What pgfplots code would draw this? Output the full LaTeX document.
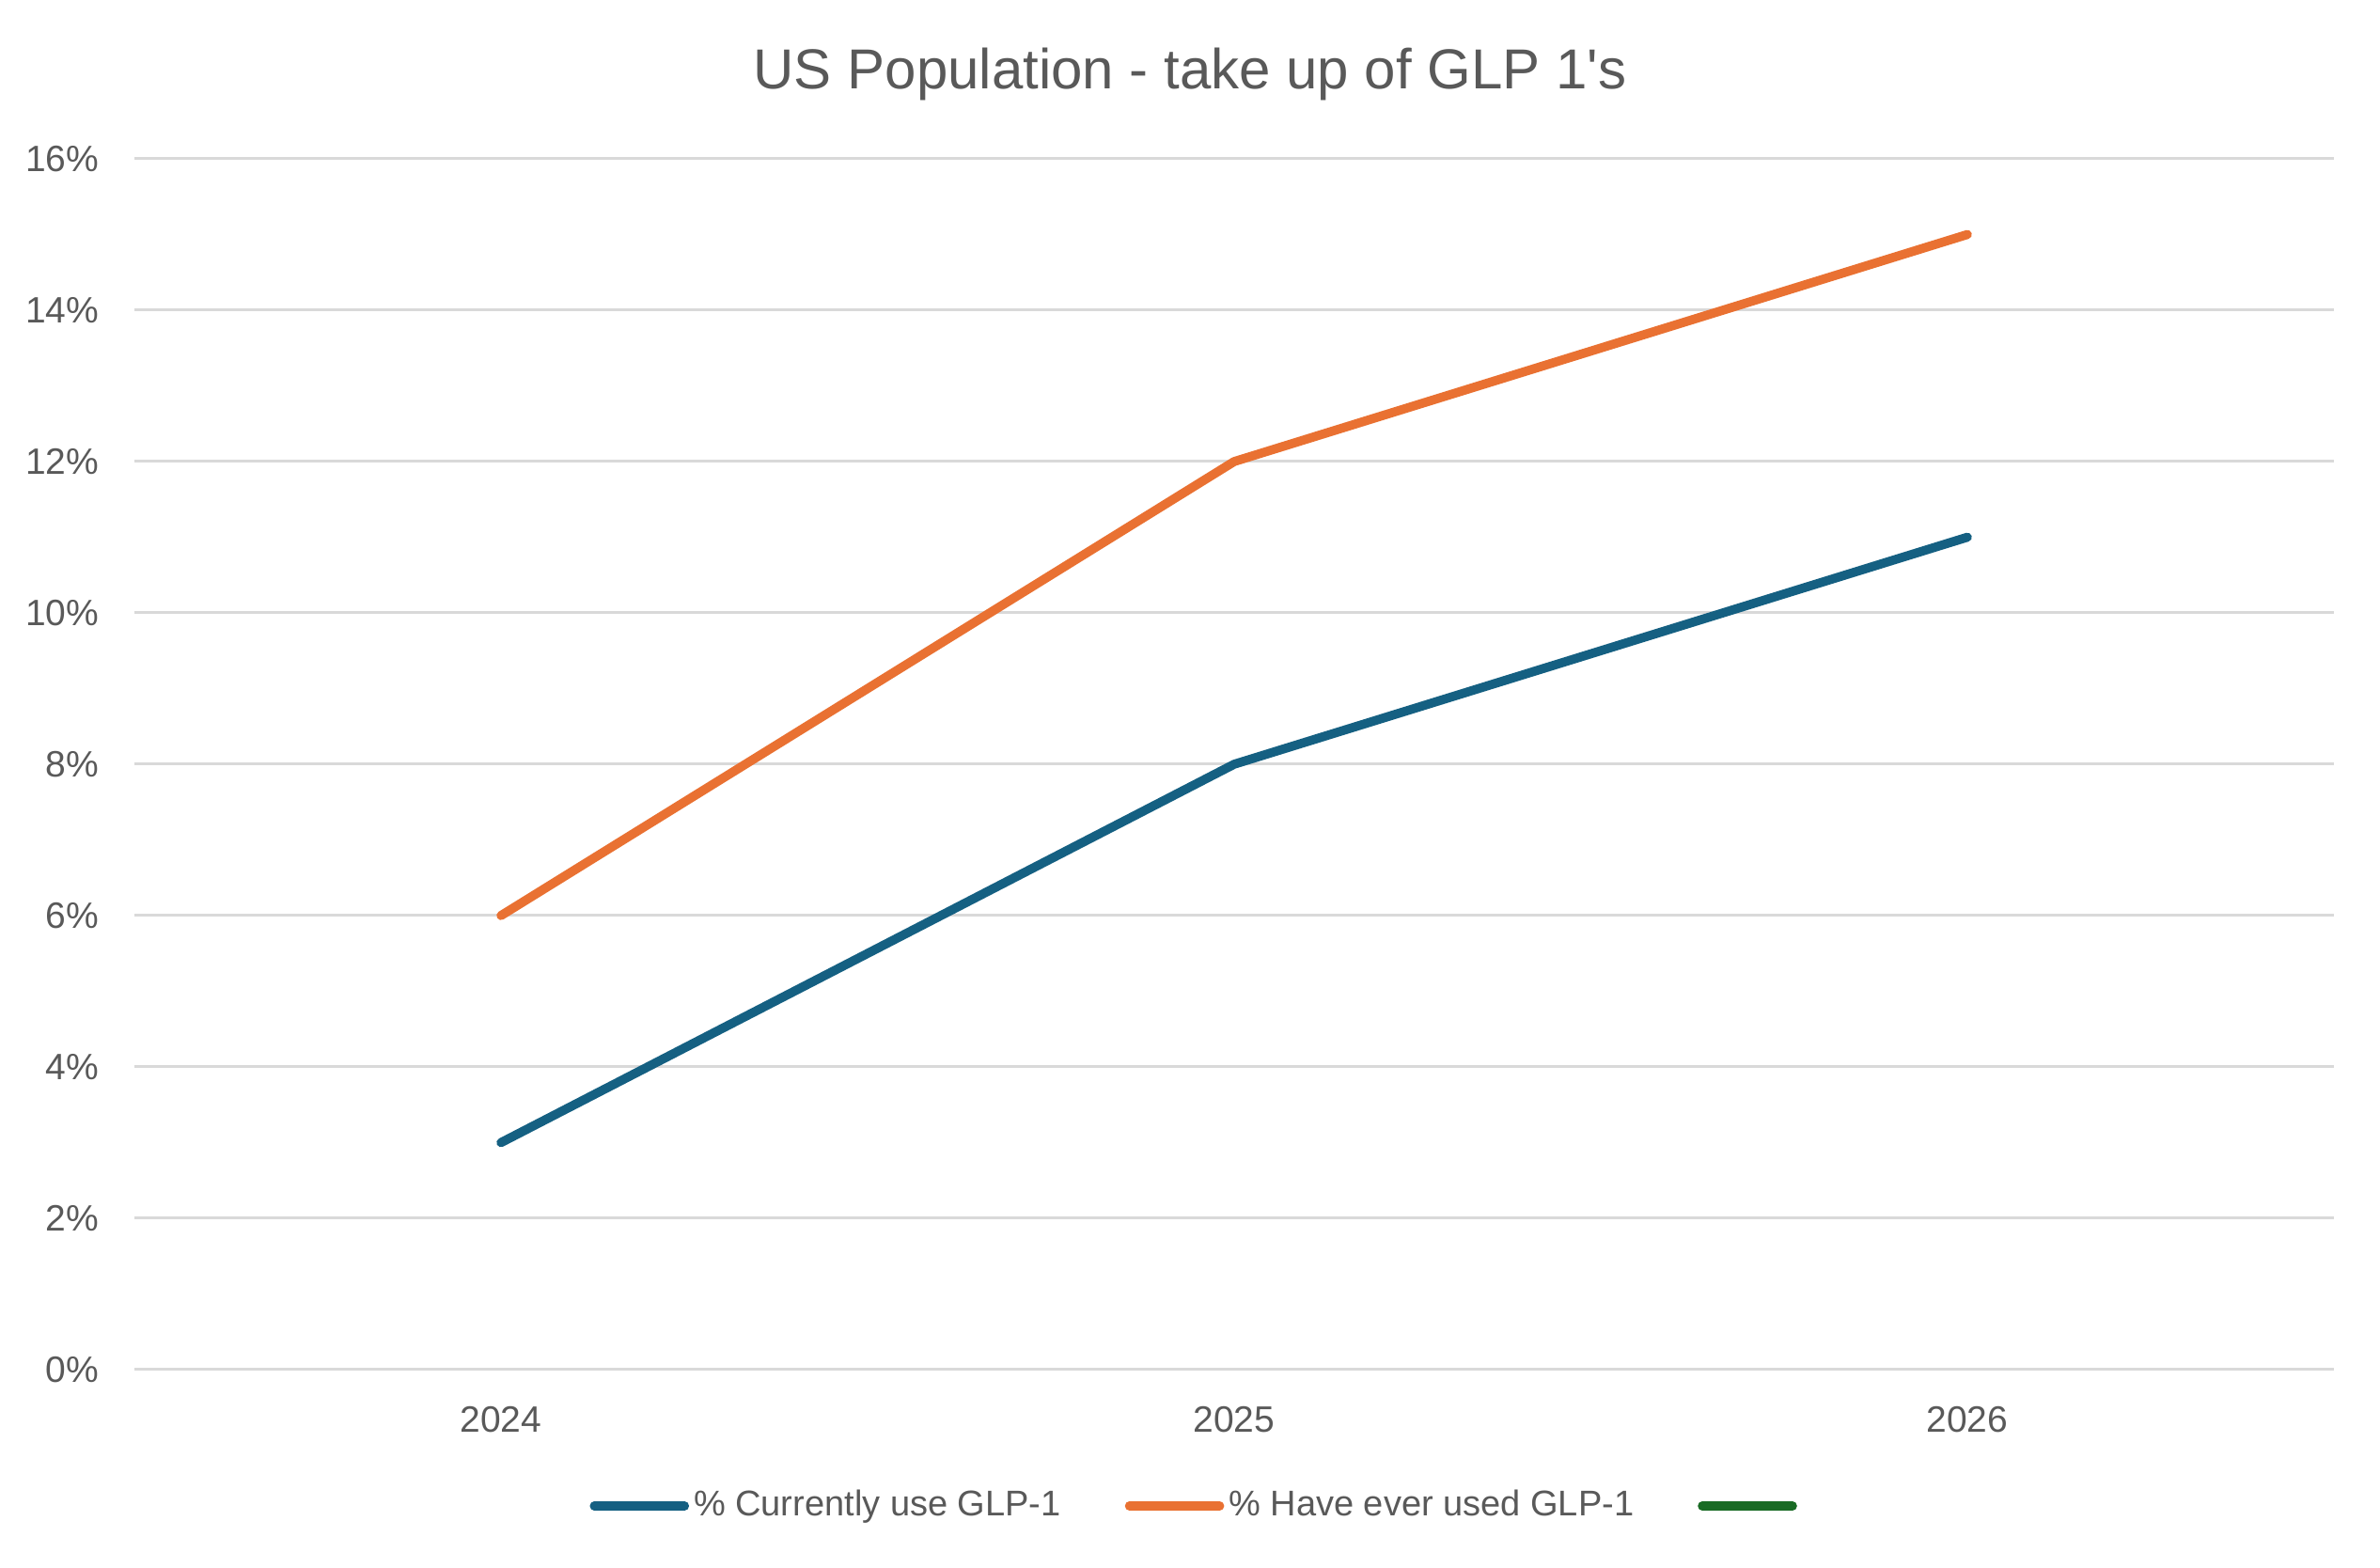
\documentclass[border=0pt]{standalone}
\usepackage{fontspec}
\setmainfont{Liberation Sans}[Ligatures=TeXOff]
\usepackage{pgfplots}
\pgfplotsset{compat=1.18}
\definecolor{txt}{HTML}{595959}
\definecolor{gridc}{HTML}{D9D9D9}
\definecolor{cblue}{HTML}{156082}
\definecolor{corange}{HTML}{E97132}
\definecolor{cgreen}{HTML}{196B24}
\begin{document}
\begin{tikzpicture}
\path[use as bounding box] (0,0) rectangle (633pt,417pt);
\node[text=txt, font=\fontsize{15}{18}\selectfont, anchor=base, inner sep=0pt] at (316.5pt,393.25pt) {US Population - take up of GLP 1's};
\begin{axis}[
  at={(35.75pt,52.75pt)}, anchor=south west,
  scale only axis, width=585pt, height=322pt,
  xmin=-0.5, xmax=2.5, ymin=0, ymax=16,
  xtick={0,1,2}, xticklabels={2024,2025,2026},
  ytick={0,2,4,6,8,10,12,14,16},
  yticklabels={0\%,2\%,4\%,6\%,8\%,10\%,12\%,14\%,16\%},
  axis line style={draw=none},
  major tick length=0pt,
  ymajorgrids, xmajorgrids=false,
  major grid style={draw=gridc, line width=0.75pt},
  tick label style={text=txt, font=\fontsize{9.75}{11}\selectfont},
  yticklabel style={anchor=east, inner sep=0pt, xshift=-9.25pt},
  xticklabel style={anchor=north, inner sep=0pt, yshift=-9.5pt},
  clip=false,
  legend columns=3,
  legend style={at={(0.4834,-0.1126)}, anchor=center, draw=none, fill=none, inner sep=0pt,
    font=\fontsize{9.5}{11}\selectfont, text=txt,
    nodes={inner sep=0pt},
    /tikz/every odd column/.append style={column sep=1.25pt},
    /tikz/every even column/.append style={column sep=17pt}},
  legend image code/.code={\path (0pt,0pt) -- (24pt,0pt); \draw[#1, line width=2.5pt, line cap=round] (1.25pt,0pt) -- (22.75pt,0pt);},
]
\addplot[draw=cblue, line width=2.4pt, line join=round, line cap=round] coordinates {(0,3) (1,8) (2,11)};
\addlegendentry{\% Currently use GLP-1}
\addplot[draw=corange, line width=2.4pt, line join=round, line cap=round] coordinates {(0,6) (1,12) (2,15)};
\addlegendentry{\% Have ever used GLP-1}
\addlegendimage{draw=cgreen, line width=2.4pt, line cap=round}
\addlegendentry{}
\end{axis}
\end{tikzpicture}
\end{document}
